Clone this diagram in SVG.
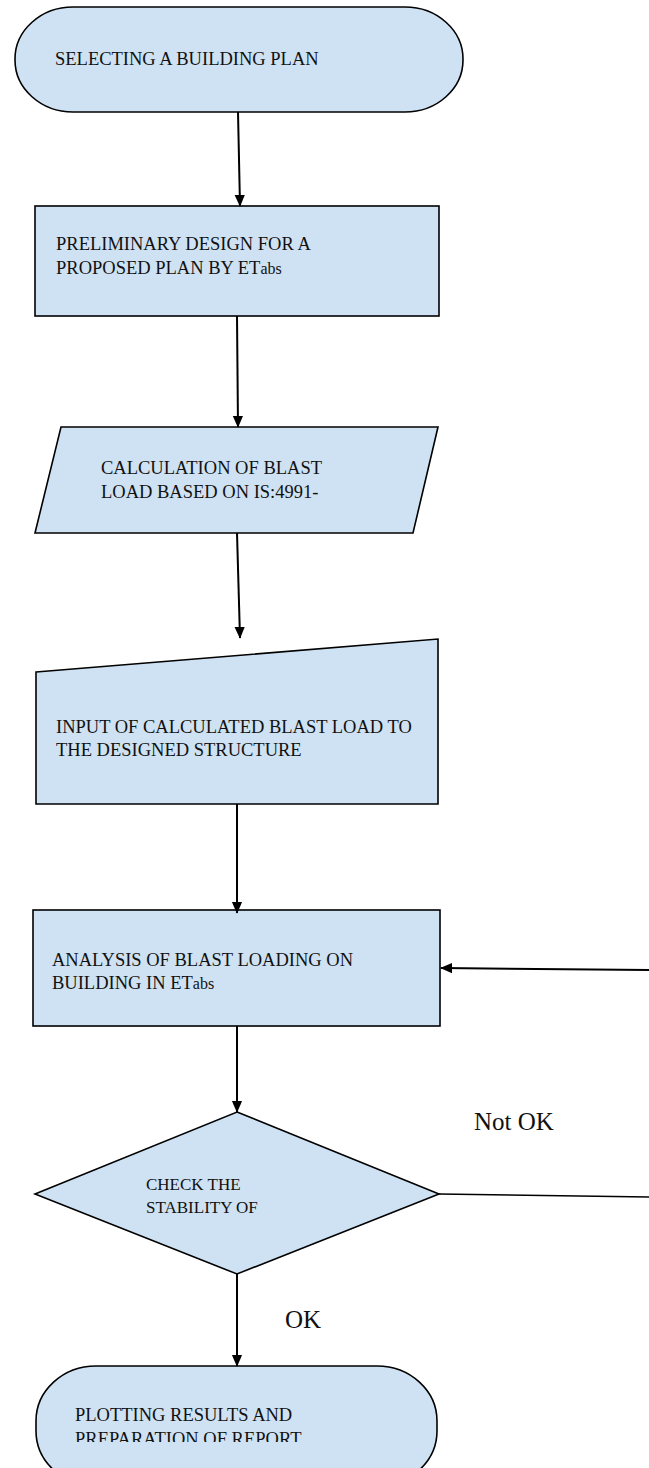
<svg xmlns="http://www.w3.org/2000/svg" width="649" height="1468" viewBox="0 0 649 1468">
<style>
.shape{fill:#cfe2f3;stroke:#000;stroke-width:1.6}
.t{font-family:"Liberation Serif","Times New Roman",serif;font-size:18.5px;fill:#111}
.sm{font-size:16px}
.s{font-size:17px}
.lbl{font-family:"Liberation Serif","Times New Roman",serif;font-size:25px;fill:#111}
.c{stroke:#000;stroke-width:2;fill:none}
</style>
<defs>
<marker id="ah" markerWidth="12" markerHeight="14" refX="13" refY="6" orient="auto" markerUnits="userSpaceOnUse" viewBox="0 0 14 12">
<path d="M0,0 L14,6 L0,12 Z" fill="#000"/>
</marker>
<clipPath id="clipEnd"><rect x="0" y="0" width="649" height="1442"/></clipPath>
</defs>
<g id="n1">
<rect class="shape" x="15" y="7" width="448" height="105" rx="58" ry="52"/>
<text class="t" x="55" y="65">SELECTING A BUILDING PLAN</text>
</g>
<g id="n2">
<rect class="shape" x="35" y="206" width="404" height="110"/>
<text class="t" x="56" y="250">PRELIMINARY DESIGN FOR A</text>
<text class="t" x="56" y="274">PROPOSED PLAN BY ET<tspan class="sm">abs</tspan></text>
</g>
<g id="n3">
<polygon class="shape" points="61,427 438,427 413,533 35,533"/>
<text class="t" x="101" y="474">CALCULATION OF BLAST</text>
<text class="t" x="101" y="498">LOAD BASED ON IS:4991-</text>
</g>
<g id="n4">
<polygon class="shape" points="36,672 438,639 438,804 36,804"/>
<text class="t" x="56" y="733">INPUT OF CALCULATED BLAST LOAD TO</text>
<text class="t" x="56" y="756">THE DESIGNED STRUCTURE</text>
</g>
<g id="n5">
<rect class="shape" x="33" y="910" width="407" height="116"/>
<text class="t" x="52" y="966">ANALYSIS OF BLAST LOADING  ON</text>
<text class="t" x="52" y="989">BUILDING IN ET<tspan class="sm">abs</tspan></text>
</g>
<g id="n6">
<polygon class="shape" points="237,1112 439,1194 237,1274 35,1194"/>
<text class="t s" x="146" y="1190">CHECK THE</text>
<text class="t s" x="146" y="1213">STABILITY OF</text>
</g>
<g id="n7">
<rect class="shape" x="36" y="1366" width="401" height="120" rx="60" ry="55"/>
<text class="t" x="75" y="1421">PLOTTING RESULTS AND</text>
<text class="t" x="75" y="1445" clip-path="url(#clipEnd)">PREPARATION OF REPORT</text>
</g>
<g id="connectors">
<line class="c" x1="238" y1="112" x2="240" y2="206" marker-end="url(#ah)"/>
<line class="c" x1="237" y1="316" x2="238" y2="427" marker-end="url(#ah)"/>
<line class="c" x1="237" y1="533" x2="240" y2="638" marker-end="url(#ah)"/>
<line class="c" x1="237" y1="804" x2="237" y2="913" marker-end="url(#ah)"/>
<line class="c" x1="237" y1="1026" x2="237" y2="1112" marker-end="url(#ah)"/>
<line class="c" x1="237" y1="1274" x2="237" y2="1366" marker-end="url(#ah)"/>
<line class="c" x1="649" y1="970" x2="441" y2="968" marker-end="url(#ah)"/>
<line x1="439" y1="1194" x2="649" y2="1197" stroke="#000" stroke-width="1.4"/>
<text class="lbl" x="474" y="1130">Not OK</text>
<text class="lbl" x="285" y="1328">OK</text>
</g>
</svg>
